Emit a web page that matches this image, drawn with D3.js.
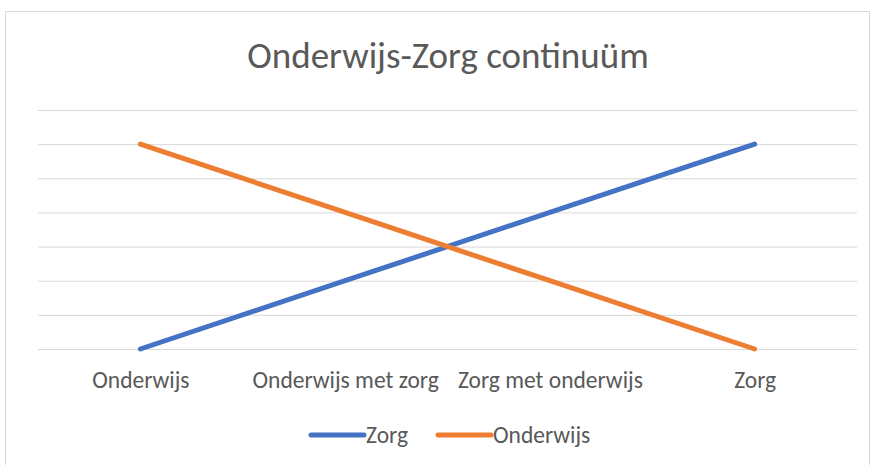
<!DOCTYPE html>
<html>
<head>
  <meta charset="utf-8">
  <title>Onderwijs-Zorg continuüm</title>
  <script src="https://d3js.org/d3.v7.min.js"></script>
  <style>
    body { margin: 0; background: #fff; }
    text { font-family: Carlito, "Liberation Sans Narrow", "Open Sans", sans-serif; fill: #595959; }
  </style>
</head>
<body>
<div id="chart"></div>
<script>
// data
var categories = ["Onderwijs", "Onderwijs met zorg", "Zorg met onderwijs", "Zorg"];
var zorg = [0, 2, 4, 6];
var onderwijs = [6, 4, 2, 0];
var seriesNames = ["Zorg", "Onderwijs"];
var yTicks = [0, 1, 2, 3, 4, 5, 6, 7];

var W = 873, H = 465;
var margin = {top: 110, right: 16, bottom: 116, left: 38},
    width = W - margin.left - margin.right,
    height = H - margin.top - margin.bottom;

var svg = d3.select("#chart").append("svg")
    .attr("width", W)
    .attr("height", H);

// chart border
svg.append("rect")
    .attr("x", 5.5).attr("y", 11.5)
    .attr("width", W - 9).attr("height", H)
    .attr("fill", "#fff")
    .attr("stroke", "#d9d9d9");

svg.append("text")
    .attr("x", 448)
    .attr("y", 68)
    .attr("text-anchor", "middle")
    .attr("font-size", 37)
    .attr("font-weight", 300)
    .text("Onderwijs-Zorg continuüm");

var g = svg.append("g")
    .attr("transform", "translate(" + margin.left + "," + margin.top + ")");

var x = d3.scalePoint().domain(categories).range([0, width]).padding(0.5);
var y = d3.scaleLinear().domain([0, 7]).range([height, 0]);

// gridlines
g.append("g")
    .call(d3.axisLeft(y).tickValues(yTicks).tickSize(-width).tickFormat(""))
    .call(function(a) {
      a.select(".domain").remove();
      a.selectAll("line").attr("stroke", "#d9d9d9").attr("stroke-width", 1);
    });

// x axis labels
g.append("g")
    .attr("transform", "translate(0," + height + ")")
    .call(d3.axisBottom(x).tickSize(0).tickPadding(22))
    .call(function(a) {
      a.select(".domain").remove();
      a.selectAll("text").attr("font-size", 23.5).attr("fill", "#595959")
        .style("font-family", "Carlito, 'Liberation Sans Narrow', 'Open Sans', sans-serif");
    });

var colors = {Zorg: "#4472c4", Onderwijs: "#ed7d31"};
var series = [
  {name: "Zorg", values: zorg},
  {name: "Onderwijs", values: onderwijs}
];

var line = d3.line()
    .x(function(d, i) { return x(categories[i]); })
    .y(function(d) { return y(d); });

g.selectAll(".series")
    .data(series)
    .enter().append("path")
    .attr("class", "series")
    .attr("d", function(d) { return line(d.values); })
    .attr("fill", "none")
    .attr("stroke", function(d) { return colors[d.name]; })
    .attr("stroke-width", 5)
    .attr("stroke-linecap", "round")
    .attr("stroke-linejoin", "round");

// legend
var legendX = [311, 438];
var lg = svg.selectAll(".legend")
    .data(seriesNames)
    .enter().append("g")
    .attr("class", "legend")
    .attr("transform", function(d, i) { return "translate(" + legendX[i] + ",435)"; });

lg.append("line")
    .attr("x1", 0).attr("x2", 53)
    .attr("stroke", function(d) { return colors[d]; })
    .attr("stroke-width", 5)
    .attr("stroke-linecap", "round");

lg.append("text")
    .attr("x", 55)
    .attr("y", 8)
    .attr("font-size", 23.5)
    .text(function(d) { return d; });
</script>
</body>
</html>
